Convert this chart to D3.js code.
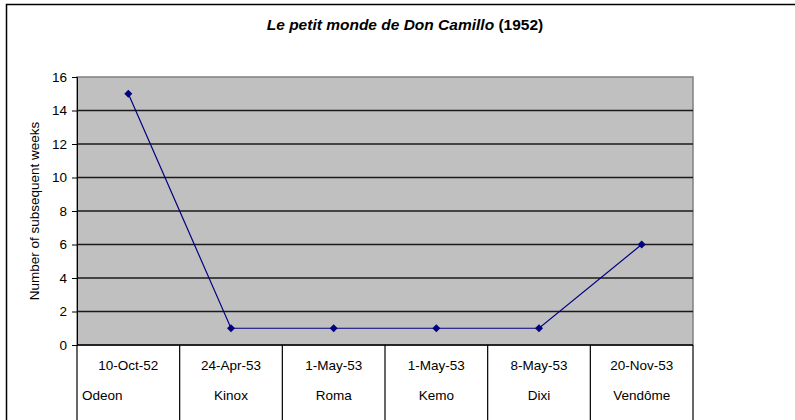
<!DOCTYPE html>
<html>
<head>
<meta charset="utf-8">
<script src="https://cdn.jsdelivr.net/npm/d3@7"></script>
<style>
  body { margin: 0; background: #fff; }
  svg { display: block; font-family: "Liberation Sans", Arial, sans-serif; }
</style>
</head>
<body>
<svg id="chart" width="795" height="420"></svg>
<script>
// --- Data ---
const dates = ["10-Oct-52", "24-Apr-53", "1-May-53", "1-May-53", "8-May-53", "20-Nov-53"];
const cinemas = ["Odeon", "Kinox", "Roma", "Kemo", "Dixi", "Vendôme"];
const weeks = [15, 1, 1, 1, 1, 6];
const yTicks = [0, 2, 4, 6, 8, 10, 12, 14, 16];

const svg = d3.select("#chart");
const margin = { left: 77, top: 77, right: 693, bottom: 345 };

// outer chart frame (only top and left visible)
svg.append("rect")
    .attr("x", 6.5).attr("y", 4.5)
    .attr("width", 900).attr("height", 600)
    .attr("fill", "none")
    .attr("stroke", "#000")
    .attr("stroke-width", 1.5);

const keys = d3.range(weeks.length);
const x = d3.scaleBand().domain(keys).range([margin.left, margin.right]);
const y = d3.scaleLinear().domain([0, 16]).range([margin.bottom, margin.top]);

// plot area
svg.append("rect")
    .attr("x", margin.left).attr("y", margin.top)
    .attr("width", margin.right - margin.left)
    .attr("height", margin.bottom - margin.top)
    .attr("fill", "#c0c0c0")
    .attr("stroke", "#808080")
    .attr("stroke-width", 1.5);

// gridlines
svg.append("g")
    .selectAll("line")
    .data(yTicks.filter(d => d > 0 && d < 16))
    .join("line")
    .attr("x1", margin.left).attr("x2", margin.right)
    .attr("y1", d => y(d)).attr("y2", d => y(d))
    .attr("stroke", "#1a1a1a")
    .attr("stroke-width", 1.3);

// y axis
const yAxis = svg.append("g")
    .attr("transform", `translate(${margin.left},0)`)
    .call(d3.axisLeft(y).tickValues(yTicks).tickSize(5).tickPadding(5));
yAxis.select(".domain").attr("stroke", "#000");
yAxis.selectAll(".tick line").attr("stroke", "#000");
yAxis.selectAll("text")
    .attr("font-size", "13.5px")
    .attr("fill", "#000")
    .attr("font-family", "Liberation Sans, Arial, sans-serif");

// x axis line
svg.append("line")
    .attr("x1", margin.left).attr("x2", margin.right)
    .attr("y1", margin.bottom).attr("y2", margin.bottom)
    .attr("stroke", "#000").attr("stroke-width", 1.5);

// category dividers extending below plot
const edges = keys.map(k => x(k)).concat([x.range()[1]]);
svg.append("g")
    .selectAll("line")
    .data(edges)
    .join("line")
    .attr("x1", d => d).attr("x2", d => d)
    .attr("y1", margin.bottom).attr("y2", 420)
    .attr("stroke", "#000")
    .attr("stroke-width", 1.2);

// category labels
const cx = k => x(k) + x.bandwidth() / 2;
svg.append("g")
    .selectAll("text")
    .data(keys)
    .join("text")
    .attr("x", cx)
    .attr("y", 370)
    .attr("text-anchor", "middle")
    .attr("font-size", "13.5px")
    .text(k => dates[k]);

svg.append("g")
    .selectAll("text")
    .data(keys)
    .join("text")
    .attr("x", k => k === 0 ? x(k) + 5 : cx(k))
    .attr("y", 400)
    .attr("text-anchor", k => k === 0 ? "start" : "middle")
    .attr("font-size", "13.5px")
    .text(k => cinemas[k]);

// line + markers
const line = d3.line()
    .x(k => cx(k))
    .y(k => y(weeks[k]));

svg.append("path")
    .datum(keys)
    .attr("d", line)
    .attr("fill", "none")
    .attr("stroke", "#000080")
    .attr("stroke-width", 1.2);

svg.append("g")
    .selectAll("path")
    .data(keys)
    .join("path")
    .attr("transform", k => `translate(${cx(k)},${y(weeks[k])})`)
    .attr("d", "M0,-4L4,0L0,4L-4,0Z")
    .attr("fill", "#000080");

// title
const title = svg.append("text")
    .attr("x", 405)
    .attr("y", 30)
    .attr("text-anchor", "middle")
    .attr("font-size", "15.5px")
    .attr("font-weight", "bold");
title.append("tspan").attr("font-style", "italic").text("Le petit monde de Don Camillo");
title.append("tspan").text(" (1952)");

// y axis title
svg.append("text")
    .attr("transform", `translate(39,${(margin.top + margin.bottom) / 2}) rotate(-90)`)
    .attr("text-anchor", "middle")
    .attr("font-size", "13.5px")
    .text("Number of subsequent weeks");
</script>
</body>
</html>
